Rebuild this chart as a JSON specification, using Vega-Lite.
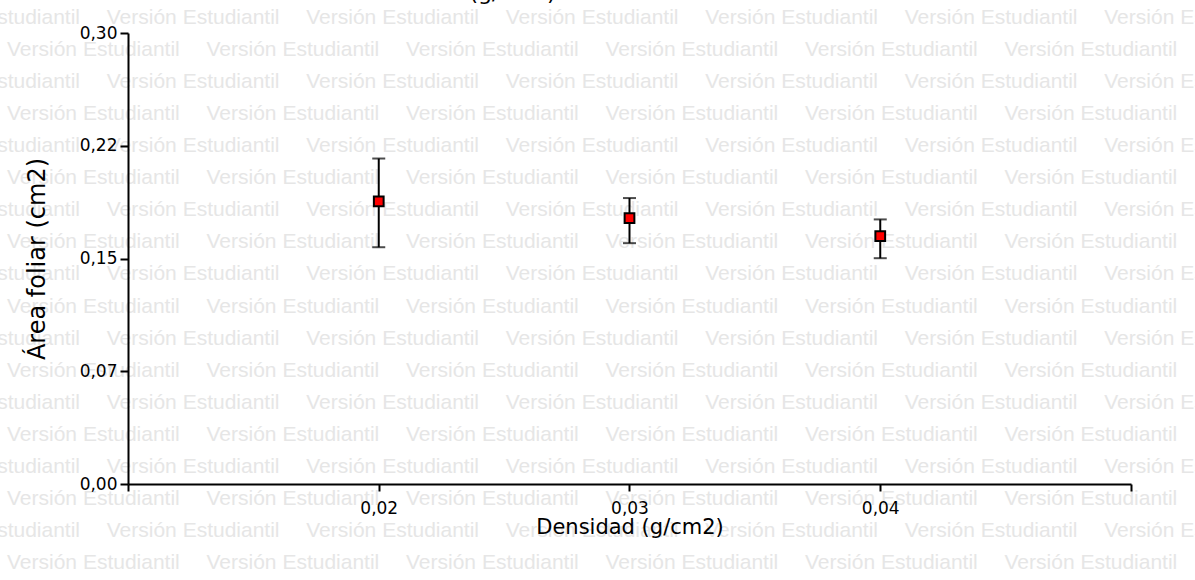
{
  "$schema": "https://vega.github.io/schema/vega-lite/v6.json",
  "width": 1003,
  "height": 451,
  "autosize": {"type": "none"},
  "padding": {"left": 128, "top": 33, "right": 64, "bottom": 96},
  "background": "white",
  "title": {
    "text": "(g/cm2) vs Área foliar",
    "font": "DejaVu Sans",
    "fontSize": 22,
    "fontWeight": "normal",
    "color": "black",
    "anchor": "middle",
    "dx": -41,
    "baseline": "alphabetic",
    "offset": -15
  },
  "config": {"view": {"stroke": null}, "font": "DejaVu Sans"},
  "resolve": {"scale": {"x": "independent", "y": "independent"}},
  "layer": [
    {
      "data": {
        "values": [
          {"r": [0, 2, 4, 6, 8, 10, 12, 14, 16], "c": [-0.5, 0.5, 1.5, 2.5, 3.5, 4.5, 5.5]},
          {"r": [1, 3, 5, 7, 9, 11, 13, 15, 17], "c": [0, 1, 2, 3, 4, 5]}
        ]
      },
      "transform": [{"flatten": ["r"]}, {"flatten": ["c"]}],
      "mark": {"type": "text", "align": "left", "baseline": "middle", "font": "Liberation Sans", "fontSize": 21, "color": "#e6e6e6"},
      "encoding": {
        "x": {"field": "c", "type": "quantitative", "scale": {"domain": [0.6065, 5.634], "nice": false, "zero": false}, "axis": null},
        "y": {"field": "r", "type": "quantitative", "scale": {"domain": [0.468, 14.535], "nice": false, "zero": false, "reverse": true}, "axis": null},
        "text": {"value": "Versión Estudiantil"}
      }
    },
    {
      "data": {
        "values": [
          {"d": 0.02, "mean": 0.188, "lo": 0.1575, "hi": 0.2165},
          {"d": 0.03, "mean": 0.1769, "lo": 0.1602, "hi": 0.1902},
          {"d": 0.04, "mean": 0.1649, "lo": 0.1502, "hi": 0.176}
        ]
      },
      "encoding": {
        "x": {
          "field": "d",
          "type": "quantitative",
          "scale": {"domain": [0.01, 0.05], "nice": false, "zero": false},
          "axis": {
            "values": [0.01, 0.02, 0.03, 0.04, 0.05],
            "labelExpr": "datum.value < 0.015 || datum.value > 0.045 ? '' : replace(format(datum.value, '.2f'), '.', ',')",
            "title": "Densidad (g/cm2)",
            "grid": false,
            "zindex": 2,
            "domainColor": "black", "domainWidth": 2,
            "tickColor": "black", "tickWidth": 2, "tickSize": 7,
            "labelFont": "DejaVu Sans", "labelFontSize": 17, "labelColor": "black", "labelPadding": 9,
            "labelFlush": false, "labelOverlap": false,
            "titleFont": "DejaVu Sans", "titleFontSize": 21, "titleColor": "black", "titleFontWeight": "normal", "titlePadding": 0
          }
        }
      },
      "layer": [
        {
          "mark": {"type": "rule", "color": "black", "strokeWidth": 2},
          "encoding": {
            "y": {
              "field": "lo",
              "type": "quantitative",
              "title": "Área foliar (cm2)",
              "scale": {"domain": [0, 0.3], "nice": false, "zero": false},
              "axis": {
                "values": [0, 0.075, 0.15, 0.225, 0.3],
                "labelExpr": "datum.value < 0.01 ? '0,00' : datum.value < 0.1 ? '0,07' : datum.value < 0.2 ? '0,15' : datum.value < 0.26 ? '0,22' : '0,30'",
                "grid": false,
                "zindex": 2,
                "domainColor": "black", "domainWidth": 2,
                "tickColor": "black", "tickWidth": 2, "tickSize": 8,
                "labelFont": "DejaVu Sans", "labelFontSize": 17, "labelColor": "black", "labelPadding": 3,
                "labelFlush": false, "labelOverlap": false,
                "titleFont": "DejaVu Sans", "titleFontSize": 24, "titleColor": "black", "titleFontWeight": "normal", "titlePadding": 30
              }
            },
            "y2": {"field": "hi"}
          }
        },
        {
          "mark": {"type": "tick", "orient": "horizontal", "size": 13, "thickness": 2, "color": "black"},
          "encoding": {"y": {"field": "hi", "type": "quantitative", "title": "Área foliar (cm2)"}}
        },
        {
          "mark": {"type": "tick", "orient": "horizontal", "size": 13, "thickness": 2, "color": "black"},
          "encoding": {"y": {"field": "lo", "type": "quantitative", "title": "Área foliar (cm2)"}}
        },
        {
          "mark": {"type": "square", "size": 95, "filled": true, "fill": "#ff0000", "fillOpacity": 1, "stroke": "#000000", "strokeWidth": 2, "opacity": 1},
          "encoding": {"y": {"field": "mean", "type": "quantitative", "title": "Área foliar (cm2)"}}
        }
      ]
    }
  ]
}
